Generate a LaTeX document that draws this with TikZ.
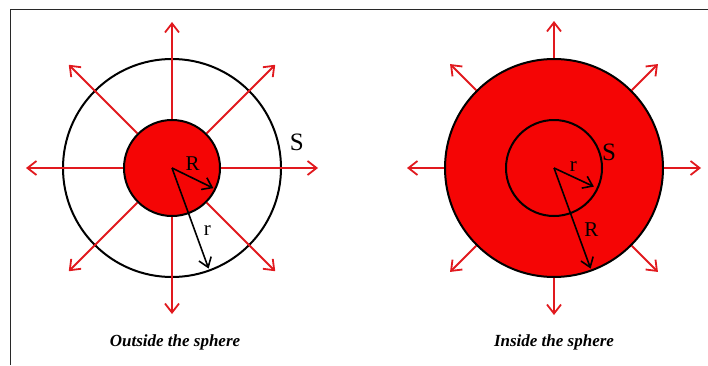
\documentclass[tikz,border=0pt]{standalone}
\usepackage{fontspec}
\setmainfont{Liberation Serif}
\usetikzlibrary{arrows.meta,calc}
\definecolor{ballred}{RGB}{245,5,5}
\definecolor{linered}{RGB}{225,25,30}
\definecolor{framegray}{RGB}{40,40,40}
\tikzset{
  redarrow/.style={draw=linered, line width=1.8pt, -{Straight Barb[length=9pt,width=14pt,line width=1.8pt]}},
  blackarrow/.style={draw=black, line width=1.6pt, -{Straight Barb[length=9pt,width=13pt,line width=1.6pt]}},
  ring/.style={circle, draw=black, line width=2pt, inner sep=0pt},
  lbl/.style={font=\fontsize{21}{21}\selectfont, inner sep=0pt},
  slbl/.style={font=\fontsize{25}{25}\selectfont, inner sep=0pt},
  caption/.style={font=\fontsize{17}{17}\selectfont\bfseries\itshape, inner sep=0pt}
}
\begin{document}
\begin{tikzpicture}[x=1pt,y=1pt]
\useasboundingbox (0,0) rectangle (708,365);
\draw[framegray, line width=1.3pt] (10.5,0) -- (10.5,355.5) -- (708,355.5);
% ---------- Left: outside the sphere ----------
\coordinate (Lc) at (172,197);
\node[ring, minimum size=218pt] (Louter) at (Lc) {};
\node[ring, fill=ballred, minimum size=96pt] (Linner) at (Lc) {};
\foreach \a in {0,45,...,315} {
  \coordinate (Lt\a) at ($(Lc)+(\a:146)$);
  \draw[redarrow] (Linner.\a) -- (Lt\a);
}
\coordinate (LR) at ($(Lc)+(-26:46)$);
\coordinate (Lr) at ($(Lc)+(-70:107)$);
\draw[blackarrow] (Lc) -- (LR);
\draw[blackarrow] (Lc) -- (Lr);
\node[lbl] (LRl) at (192.7,201.5) {R};
\node[lbl] (Lrl) at (207.3,134) {r};
\node[slbl] (LS) at (296.7,222.5) {S};
\node[caption] (Lcap) at (175,23) {Outside the sphere};
% ---------- Right: inside the sphere ----------
\coordinate (Rc) at (554,197);
\node[ring, fill=ballred, minimum size=218pt] (Router) at (Rc) {};
\node[ring, minimum size=96pt] (Rinner) at (Rc) {};
\foreach \a in {0,45,...,315} {
  \coordinate (Rt\a) at ($(Rc)+(\a:147)$);
  \draw[redarrow] (Router.\a) -- (Rt\a);
}
\coordinate (Rr) at ($(Rc)+(-25:44)$);
\coordinate (RR) at ($(Rc)+(-70:107)$);
\draw[blackarrow] (Rc) -- (Rr);
\draw[blackarrow] (Rc) -- (RR);
\node[lbl] (Rrl) at (573.3,198.5) {r};
\node[lbl] (RRl) at (591.3,135) {R};
\node[slbl] (RS) at (609,212.5) {S};
\node[caption] (Rcap) at (554,23) {Inside the sphere};
\end{tikzpicture}
\end{document}
